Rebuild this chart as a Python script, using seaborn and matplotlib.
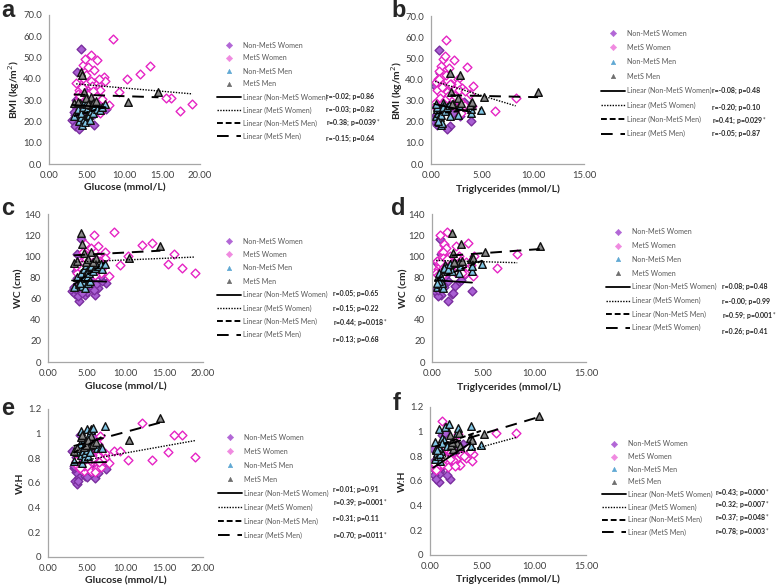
import matplotlib
matplotlib.use("Agg")
import numpy as np
import pandas as pd
import matplotlib.pyplot as plt
import seaborn as sns
from matplotlib.lines import Line2D
from matplotlib.ticker import FormatStrFormatter

# ---- subject data ----
# Non-MetS women
nw_glucose = [3.1, 3.5, 4.0, 6.0, 3.6, 6.5, 7.5, 4.2, 3.7, 4.5, 4.8, 5.0, 5.3, 5.8, 4.1, 3.9, 4.3, 4.6,
              5.5, 3.4, 4.4, 5.2, 4.9, 3.8, 5.6, 6.2, 4.7, 3.3, 7.0, 5.1, 4.0, 4.5, 3.6, 5.9, 6.8]
nw_tg = [0.3, 1.9, 1.6, 0.6, 0.5, 1.0, 1.1, 0.8, 0.9, 3.9, 0.9, 0.4, 2.6, 1.2, 1.4, 0.6, 1.1, 1.3,
         1.8, 0.5, 2.0, 0.8, 1.5, 1.0, 2.2, 0.9, 0.7, 1.2, 1.6, 3.2, 2.8, 0.4, 1.7, 0.6, 1.3]
nw_bmi = [20.5, 18, 16.5, 18.5, 27, 25, 26, 54, 43, 20.5, 24, 22, 30, 28, 33, 21, 26, 29,
          31, 23, 27.5, 25, 32, 28, 24, 26.5, 35, 24.5, 27, 29.5, 22.5, 37, 30, 23.5, 28.5]
nw_wc = [67, 64, 58, 63, 69, 70, 75, 116, 102, 67, 63, 66, 76, 80, 88, 62, 73, 82,
         90, 70, 65, 78, 85, 79, 72, 74, 92, 71, 77, 83, 78, 95, 86, 68, 81]
nw_whr = [0.86, 0.62, 0.65, 0.64, 0.69, 0.68, 0.71, 0.80, 0.59, 0.92, 0.66, 0.65, 0.80, 0.97, 0.99, 0.62, 0.74, 0.78,
          0.85, 0.72, 0.76, 0.75, 0.82, 0.78, 0.80, 0.73, 0.84, 0.74, 0.79, 0.90, 0.88, 0.76, 0.81, 0.70, 0.77]

# MetS women
mw_glucose = [8.5, 19.0, 17.3, 16.2, 15.5, 13.4, 12.1, 10.3, 9.3, 4.5, 4.8, 5.6, 5.2, 5.9, 6.4, 6.5, 6.0, 7.3,
              7.4, 7.9, 4.0, 4.3, 4.6, 5.0, 5.4, 5.5, 4.2, 6.2, 6.8, 3.9, 4.4, 4.7, 5.1, 5.7, 6.7, 3.7,
              4.9, 5.3, 6.1, 7.0, 4.1, 5.8, 6.6, 3.6, 5.0]
mw_tg = [1.5, 3.2, 6.3, 8.3, 2.1, 3.5, 1.2, 2.6, 1.9, 1.0, 1.2, 1.4, 1.8, 0.8, 2.3, 4.1, 2.5, 1.1,
         0.9, 4.0, 0.6, 1.3, 0.7, 2.0, 1.6, 0.5, 2.8, 1.7, 2.9, 1.0, 3.0, 0.9, 2.2, 1.1, 2.7, 0.4,
         1.5, 3.8, 0.6, 1.4, 2.4, 3.3, 0.8, 1.9, 1.2]
mw_bmi = [58.5, 28, 25, 31, 31, 46, 42.5, 40, 34, 46.5, 49.5, 51, 45.5, 44, 49, 37, 38, 41,
          39, 27.5, 35, 37, 40, 38, 34, 39, 30, 32, 24, 33, 36, 31, 28, 36.5, 35, 29,
          42, 33, 26, 30.5, 32, 34.5, 40, 38, 29]
mw_wc = [123, 84, 89, 102, 93, 113, 111, 100, 92, 104, 112, 108, 100, 120, 110, 100, 98, 104,
         98, 81, 88, 95, 92, 94, 93, 96, 86, 91, 84, 88, 93, 85, 85, 98, 96, 84,
         97, 92, 82, 89, 90, 95, 95, 91, 83]
mw_whr = [0.86, 0.81, 0.99, 0.99, 0.85, 0.79, 1.09, 0.79, 0.86, 0.82, 0.88, 0.90, 0.85, 0.80, 0.92, 0.82, 0.78, 0.84,
          0.80, 0.76, 0.72, 0.75, 0.70, 0.78, 0.76, 0.70, 0.73, 0.71, 0.73, 0.80, 0.81, 0.74, 0.77, 0.83, 0.98, 0.75,
          0.87, 0.84, 0.69, 0.79, 0.72, 0.80, 0.77, 0.78, 0.74]

# Non-MetS men
nm_glucose = [3.3, 3.8, 4.0, 4.2, 4.3, 4.4, 4.5, 4.6, 4.7, 4.8, 4.9, 5.0, 5.0, 5.1, 5.2, 5.3, 5.4,
              5.5, 5.6, 5.8, 6.0, 6.3, 6.8, 7.0, 7.4, 4.1]
nm_tg = [0.5, 0.6, 0.8, 0.9, 0.7, 1.0, 0.6, 1.2, 0.8, 1.1, 1.3, 1.5, 0.9, 1.9, 1.0, 2.6, 0.7,
         1.4, 2.7, 3.9, 1.2, 3.9, 4.9, 1.6, 1.8, 0.5]
nm_bmi = [22.5, 26, 20, 22, 24, 18.5, 27, 29, 21, 19.5, 28, 26, 23, 22.5, 23, 23, 20.5,
          25, 27.5, 24, 27, 26, 25.5, 27, 28, 28.5]
nm_wc = [71, 80, 74, 78, 84, 72, 76, 88, 79, 70, 92, 86, 80, 86, 75, 84, 77,
         90, 91, 86, 89, 91, 93, 88, 93, 75]
nm_whr = [0.78, 0.85, 0.88, 1.02, 0.83, 0.76, 0.86, 0.95, 0.80, 0.84, 0.93, 1.04, 0.87, 0.90, 0.82, 0.99, 0.85,
          1.04, 1.03, 1.05, 0.91, 0.88, 0.89, 0.88, 1.06, 0.92]

# MetS men
mm_glucose = [14.5, 10.5, 5.5, 4.3, 4.4, 3.3, 4.6, 4.9, 5.2, 5.8, 6.2, 3.8]
mm_tg = [10.5, 3.9, 5.2, 1.9, 2.8, 2.2, 2.0, 2.6, 3.8, 2.1, 4.0, 2.9]
mm_bmi = [34, 29, 31.5, 43, 42, 28.5, 34, 31, 28, 28.5, 29.5, 29]
mm_wc = [110, 98, 104, 122, 112, 94, 103, 95, 97, 95, 98, 96]
mm_whr = [1.13, 0.95, 0.98, 0.97, 0.99, 0.86, 0.89, 0.91, 0.95, 0.92, 0.93, 0.88]

legend_labels = ["Non-MetS Women", "MetS Women", "Non-MetS Men", "MetS Men",
                 "Linear (Non-MetS Women)", "Linear (MetS Women)",
                 "Linear (Non-MetS Men)", "Linear (MetS Men)"]
legend_labels_d = ["Non-MetS Women", "MetS Women", "Non-MetS Men", "MetS Women",
                   "Linear (Non-MetS Women)", "Linear (MetS Women)",
                   "Linear (Non-MetS Men)", "Linear (MetS Women)"]

stats_a = ["r=-0.02;  p=0.86", "r=-0.03;  p=0.82", "r=0.38;  p=0.039*", "r=-0.15;  p=0.64"]
stats_b = ["r=-0.08;  p=0.48", "r=-0.20;  p=0.10", "r=0.41;  p=0.029*", "r=-0.05;  p=0.87"]
stats_c = ["r=0.05;  p=0.65", "r=0.15;  p=0.22", "r=0.44;  p=0.018*", "r=0.13;  p=0.68"]
stats_d = ["r=0.08;  p=0.48", "r=-0.00;  p=0.99", "r=0.59;  p=0.001*", "r=0.26;  p=0.41"]
stats_e = ["r=0.01;  p=0.91", "r=0.39;  p=0.001*", "r=0.31;  p=0.11", "r=0.70;  p=0.011*"]
stats_f = ["r=0.43;  p=0.000*", "r=0.32;  p=0.007*", "r=0.37;  p=0.048*", "r=0.78;  p=0.003*"]

# ---- build tables ----
cols = ["glucose", "tg", "bmi", "wc", "whr"]
nw = pd.DataFrame(dict(zip(cols, [nw_glucose, nw_tg, nw_bmi, nw_wc, nw_whr])))
mw = pd.DataFrame(dict(zip(cols, [mw_glucose, mw_tg, mw_bmi, mw_wc, mw_whr])))
nm = pd.DataFrame(dict(zip(cols, [nm_glucose, nm_tg, nm_bmi, nm_wc, nm_whr])))
mm = pd.DataFrame(dict(zip(cols, [mm_glucose, mm_tg, mm_bmi, mm_wc, mm_whr])))

# group styles: data, marker, size, face, edge, legend face, line style, line width
groups = [
    (nw, "D", 20, "#A95FD3", "#7A2E9E", "#B267D6", "-", 1.3),
    (mw, "D", 20, "white", "#E524C4", "#F08AE0", (0, (1, 1)), 1.0),
    (nm, "^", 30, "#80C6E6", "#111111", "#5FA8D3", (0, (3, 1.5)), 1.4),
    (mm, "^", 30, "#8A8A8A", "#111111", "#6E6E6E", (0, (6, 4)), 1.4),
]

sns.set_style("white")
plt.rcParams["font.family"] = ["Lato", "DejaVu Sans"]

W, H = 778, 587
fig = plt.figure(figsize=(W / 100, H / 100), dpi=100)

# letter, x, y, axes box (l, r, t, b) px, xmax, ymax, ystep, yfmt, xlabel, ylabel,
# legend (handle left, first row y, row pitch), stats (x, ys), labels, stats text, ylabel x, xlabel y, letter pos
panels = [
    ("a", "glucose", "bmi", (49, 200, 15, 164), 20, 70, 10, "%.1f", "Glucose (mmol/L)", "BMI (kg/m$^2$)",
     (217, 45, 13.0), (326, [96, 109, 123, 138]), legend_labels, stats_a, 17, 188, (1, 17)),
    ("b", "tg", "bmi", (431, 584, 16, 164), 15, 70, 10, "%.1f", "Triglycerides (mmol/L)", "BMI (kg/m$^2$)",
     (601, 33, 14.4), (712, [90, 107, 121, 133]), legend_labels, stats_b, 400, 189, (391, 17)),
    ("c", "glucose", "wc", (48, 203, 214, 362), 20, 140, 20, "%d", "Glucose (mmol/L)", "WC (cm)",
     (217, 241, 13.4), (333, [293, 308, 323, 339]), legend_labels, stats_c, 18, 387, (1, 215)),
    ("d", "tg", "wc", (432, 586, 214, 362), 15, 140, 20, "%d", "Triglycerides (mmol/L)", "WC (cm)",
     (606, 232, 13.7), (722, [286, 301, 316, 331]), legend_labels_d, stats_d, 403, 387, (391, 215)),
    ("e", "glucose", "whr", (48, 203, 409, 557), 20, 1.2, 0.2, "%g", "Glucose (mmol/L)", "W:H",
     (218, 437, 14.0), (333, [489, 503, 518, 536]), legend_labels, stats_e, 20, 581, (1, 415)),
    ("f", "tg", "whr", (430, 586, 407, 555), 15, 1.2, 0.2, "%g", "Triglycerides (mmol/L)", "W:H",
     (602, 444, 12.6), (715, [493, 505, 518, 532]), legend_labels, stats_f, 402, 579, (393, 410)),
]


def fx(px):
    return px / W


def fy(py):
    return 1 - py / H


leg_fs = 5.1
stat_fs = 5.0
for (letter, xcol, ycol, box, xmax, ymax, ystep, yfmt, xlabel, ylabel,
     leg, stats, labels, stat_txt, ylab_x, xlab_y, let_pos) in panels:
    l, r, t, b = box
    ax = fig.add_axes([fx(l), fy(b), (r - l) / W, (b - t) / H])

    for df, mk, s, fc, ec, lfc, ls, lw in groups:
        sns.scatterplot(data=df, x=xcol, y=ycol, ax=ax, marker=mk, s=s, color=fc,
                        edgecolor=ec, linewidth=1.0, zorder=2, legend=False)
    for df, mk, s, fc, ec, lfc, ls, lw in groups:
        sns.regplot(data=df, x=xcol, y=ycol, ax=ax, scatter=False, ci=None, truncate=True,
                    color="black", line_kws={"lw": lw, "ls": ls, "zorder": 3})

    ax.set_xlim(0, xmax)
    ax.set_ylim(0, ymax)
    ax.set_xticks(np.arange(0, xmax + 0.1, 5))
    ax.set_yticks(np.arange(0, ymax + ystep / 2, ystep))
    ax.xaxis.set_major_formatter(FormatStrFormatter("%.2f"))
    ax.yaxis.set_major_formatter(FormatStrFormatter(yfmt))
    for sp in ["top", "right"]:
        ax.spines[sp].set_visible(False)
    for sp in ["left", "bottom"]:
        ax.spines[sp].set_color("#A6A6A6")
        ax.spines[sp].set_linewidth(0.9)
    ax.tick_params(axis="both", labelsize=6.8, colors="#A6A6A6", labelcolor="#404040",
                   length=3, width=0.8, direction="out", pad=2)

    ax.set_xlabel(xlabel, fontsize=7.5, fontweight="bold", color="#262626")
    ax.set_ylabel(ylabel, fontsize=7.5, fontweight="bold", color="#262626")
    ax.xaxis.set_label_coords(fx((l + r) / 2), fy(xlab_y - 5), transform=fig.transFigure)
    ax.yaxis.set_label_coords(fx(ylab_x + 5), fy((t + b) / 2), transform=fig.transFigure)

    # legend rows: four marker rows then four trend-line rows
    lx, ly, pitch = leg
    for i, (df, mk, s, fc, ec, lfc, ls, lw) in enumerate(groups):
        y_m = ly + i * pitch
        y_l = ly + (i + 4) * pitch
        fig.add_artist(Line2D([fx(lx + 12)], [fy(y_m)], ls="none", marker=mk, markersize=3.2,
                              markerfacecolor=lfc, markeredgecolor=lfc, markeredgewidth=0.4))
        fig.add_artist(Line2D([fx(lx), fx(lx + 24)], [fy(y_l), fy(y_l)], color="black", ls=ls, lw=lw))
    for i, lab in enumerate(labels):
        fig.text(fx(lx + 26), fy(ly + i * pitch), lab, fontsize=leg_fs, color="#595959",
                 ha="left", va="center")

    sx, sys_ = stats
    for txt, yy in zip(stat_txt, sys_):
        txt = txt.replace("  ", " ").replace("*", "$^{*}$")
        fig.text(fx(sx), fy(yy), txt, fontsize=stat_fs, fontweight="bold",
                 color="#262626", ha="left", va="center")

    fig.text(fx(let_pos[0]), fy(let_pos[1]), letter, fontsize=17, fontweight="bold",
             family=["Liberation Sans", "DejaVu Sans"], ha="left", va="baseline")

fig.savefig("out.png", dpi=100)
